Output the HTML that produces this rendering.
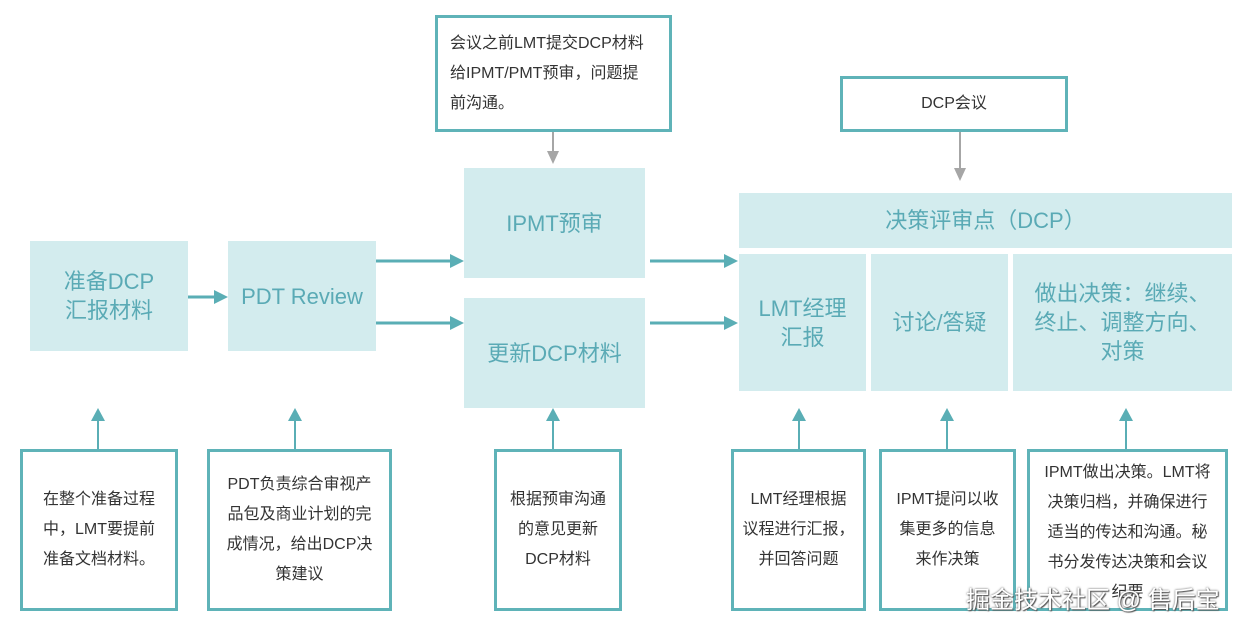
<!DOCTYPE html>
<html><head><meta charset="utf-8"><style>
body{margin:0;width:1247px;height:631px;background:#fff;position:relative;overflow:hidden;font-family:"Liberation Sans","Noto Sans CJK SC",sans-serif}
.f{position:absolute;background:#d3ecee;color:#5aaab5;display:flex;align-items:center;justify-content:center;text-align:center;font-size:22px;line-height:29px}
.b{position:absolute;border:3px solid #5fb3b8;box-sizing:border-box;background:#fff;color:#333;display:flex;align-items:center;justify-content:center;text-align:center;font-size:16px;line-height:30px;white-space:nowrap}
svg{position:absolute;left:0;top:0}
</style></head><body>
<div class="f" style="left:30px;top:241px;width:158px;height:110px">准备DCP<br>汇报材料</div>
<div class="f" style="left:228px;top:241px;width:148px;height:110px">PDT Review</div>
<div class="f" style="left:464px;top:168px;width:181px;height:110px">IPMT预审</div>
<div class="f" style="left:464px;top:298px;width:181px;height:110px">更新DCP材料</div>
<div class="f" style="left:739px;top:193px;width:493px;height:55px">决策评审点（DCP）</div>
<div class="f" style="left:739px;top:254px;width:127px;height:137px">LMT经理<br>汇报</div>
<div class="f" style="left:871px;top:254px;width:137px;height:137px">讨论/答疑</div>
<div class="f" style="left:1013px;top:254px;width:219px;height:137px">做出决策：继续、<br>终止、调整方向、<br>对策</div>
<div class="b" style="left:435px;top:15px;width:237px;height:117px;justify-content:flex-start;text-align:left;padding-left:12px">会议之前LMT提交DCP材料<br>给IPMT/PMT预审，问题提<br>前沟通。</div>
<div class="b" style="left:840px;top:76px;width:228px;height:56px">DCP会议</div>
<div class="b" style="left:20px;top:449px;width:158px;height:162px">在整个准备过程<br>中，LMT要提前<br>准备文档材料。</div>
<div class="b" style="left:207px;top:449px;width:185px;height:162px">PDT负责综合审视产<br>品包及商业计划的完<br>成情况，给出DCP决<br>策建议</div>
<div class="b" style="left:494px;top:449px;width:128px;height:162px">根据预审沟通<br>的意见更新<br>DCP材料</div>
<div class="b" style="left:731px;top:449px;width:135px;height:162px">LMT经理根据<br>议程进行汇报，<br>并回答问题</div>
<div class="b" style="left:879px;top:449px;width:137px;height:162px">IPMT提问以收<br>集更多的信息<br>来作决策</div>
<div class="b" style="left:1027px;top:449px;width:201px;height:162px;align-items:flex-start;padding-top:6px">IPMT做出决策。LMT将<br>决策归档，并确保进行<br>适当的传达和沟通。秘<br>书分发传达决策和会议<br>纪要</div>
<svg width="1247" height="631">
<g stroke="#5aaeb5" stroke-width="3" fill="#5aaeb5">
<line x1="188" y1="297" x2="216" y2="297"/><polygon points="214,290 228,297 214,304" stroke="none"/>
<line x1="376" y1="261" x2="452" y2="261"/><polygon points="450,254 464,261 450,268" stroke="none"/>
<line x1="376" y1="323" x2="452" y2="323"/><polygon points="450,316 464,323 450,330" stroke="none"/>
<line x1="650" y1="261" x2="726" y2="261"/><polygon points="724,254 738,261 724,268" stroke="none"/>
<line x1="650" y1="323" x2="726" y2="323"/><polygon points="724,316 738,323 724,330" stroke="none"/>
</g>
<g stroke="#5aaeb5" stroke-width="2" fill="#5aaeb5">
<line x1="98" y1="449" x2="98" y2="418"/><polygon points="91,421 98,408 105,421" stroke="none"/>
<line x1="295" y1="449" x2="295" y2="418"/><polygon points="288,421 295,408 302,421" stroke="none"/>
<line x1="553" y1="449" x2="553" y2="418"/><polygon points="546,421 553,408 560,421" stroke="none"/>
<line x1="799" y1="449" x2="799" y2="418"/><polygon points="792,421 799,408 806,421" stroke="none"/>
<line x1="947" y1="449" x2="947" y2="418"/><polygon points="940,421 947,408 954,421" stroke="none"/>
<line x1="1126" y1="449" x2="1126" y2="418"/><polygon points="1119,421 1126,408 1133,421" stroke="none"/>
</g>
<g stroke="#a6a6a6" stroke-width="2" fill="#a6a6a6">
<line x1="553" y1="132" x2="553" y2="154"/><polygon points="547,151 553,164 559,151" stroke="none"/>
<line x1="960" y1="132" x2="960" y2="170"/><polygon points="954,168 960,181 966,168" stroke="none"/>
</g>
</svg>
<div style="position:absolute;left:966px;top:580px;font-size:24px;color:#fff;text-shadow:0 0 2px #555,1px 1px 1px #555;white-space:nowrap">掘金技术社区 @ 售后宝</div>
</body></html>
